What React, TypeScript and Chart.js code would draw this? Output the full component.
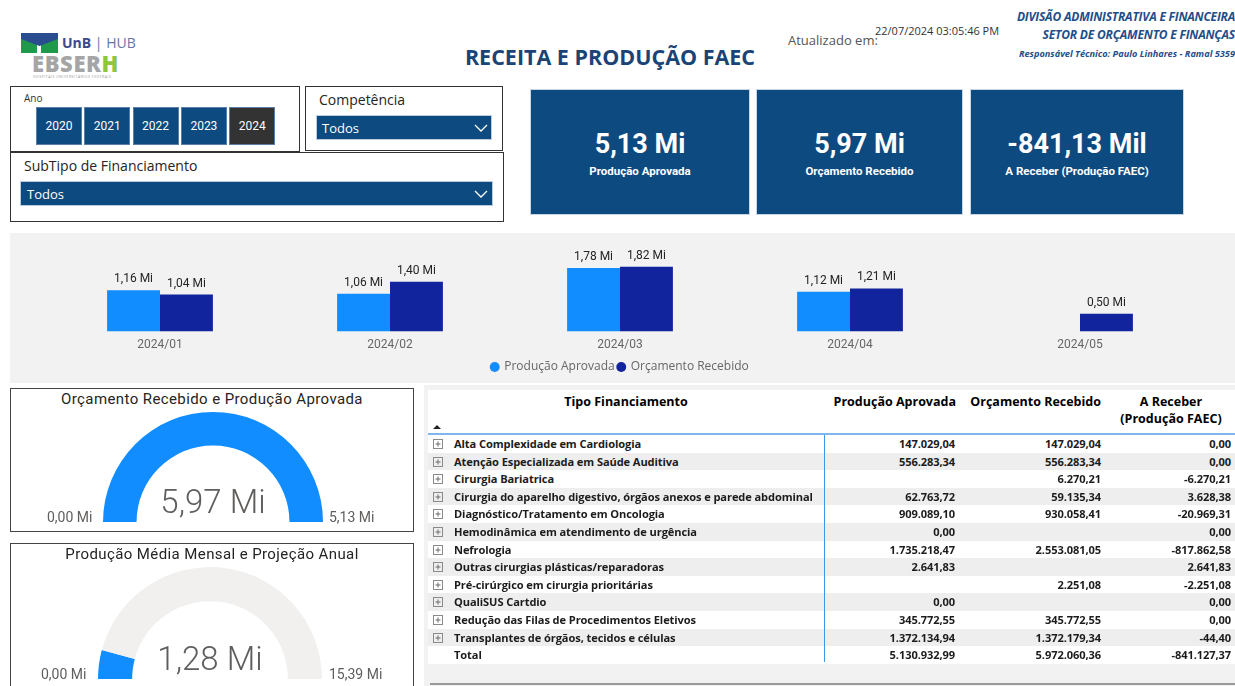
import React, { useEffect, useRef } from "react";
import { Chart, registerables } from "chart.js";
Chart.register(...registerables);

// ---------- DATA ----------
const months = ["2024/01", "2024/02", "2024/03", "2024/04", "2024/05"];
const producaoAprovada: (number | null)[] = [1.16, 1.06, 1.78, 1.12, null];
const orcamentoRecebido: (number | null)[] = [1.04, 1.4, 1.82, 1.21, 0.5];
const seriesNames = ["Produção Aprovada", "Orçamento Recebido"];

const gaugeTitles = ["Orçamento Recebido e Produção Aprovada", "Produção Média Mensal e Projeção Anual"];
const gaugeValues = [5.97, 1.28];
const gaugeMins = [0, 0];
const gaugeMaxs = [5.13, 15.39];

const anos = ["2020", "2021", "2022", "2023", "2024"];
const anoSelecionado = "2024";

const kpiValues = ["5,13 Mi", "5,97 Mi", "-841,13 Mil"];
const kpiLabels = ["Produção Aprovada", "Orçamento Recebido", "A Receber (Produção FAEC)"];

const tiposFinanciamento = [
  "Alta Complexidade em Cardiologia",
  "Atenção Especializada em Saúde Auditiva",
  "Cirurgia Bariatrica",
  "Cirurgia do aparelho digestivo, órgãos anexos e parede abdominal",
  "Diagnóstico/Tratamento em Oncologia",
  "Hemodinâmica em atendimento de urgência",
  "Nefrologia",
  "Outras cirurgias plásticas/reparadoras",
  "Pré-cirúrgico em cirurgia prioritárias",
  "QualiSUS Cartdio",
  "Redução das Filas de Procedimentos Eletivos",
  "Transplantes de órgãos, tecidos e células",
];
const tabProducao: (number | null)[] = [147029.04, 556283.34, null, 62763.72, 909089.1, 0, 1735218.47, 2641.83, null, 0, 345772.55, 1372134.94];
const tabOrcamento: (number | null)[] = [147029.04, 556283.34, 6270.21, 59135.34, 930058.41, null, 2553081.05, null, 2251.08, null, 345772.55, 1372179.34];
const tabReceber: (number | null)[] = [0, 0, -6270.21, 3628.38, -20969.31, 0, -817862.58, 2641.83, -2251.08, 0, 0, -44.4];
const tabTotais = [5130932.99, 5972060.36, -841127.37];

// ---------- HELPERS ----------
const UI = '"Open Sans", "Noto Sans", sans-serif';
const RB = 'Roboto, "Noto Sans", sans-serif';
const BLUE = "#0C4A80";

function fmtBR(v: number | null): string {
  if (v === null) return "";
  const neg = v < 0;
  const s = Math.abs(v).toFixed(2);
  const [i, d] = s.split(".");
  const ii = i.replace(/\B(?=(\d{3})+(?!\d))/g, ".");
  return (neg ? "-" : "") + ii + "," + d;
}
function fmtMi(v: number): string {
  return v.toFixed(2).replace(".", ",") + " Mi";
}

const abs = (l: number, t: number, w?: number, h?: number): React.CSSProperties => ({
  position: "absolute",
  left: l,
  top: t,
  ...(w !== undefined ? { width: w } : {}),
  ...(h !== undefined ? { height: h } : {}),
});

// ---------- BAR CHART ----------
function BarChart() {
  const ref = useRef<HTMLCanvasElement>(null);
  useEffect(() => {
    const labelPlugin = {
      id: "barLabels",
      afterDatasetsDraw(chart: any) {
        const { ctx } = chart;
        ctx.save();
        ctx.font = '12px Roboto, sans-serif';
        ctx.fillStyle = "#252423";
        ctx.textAlign = "center";
        ctx.textBaseline = "bottom";
        chart.data.datasets.forEach((ds: any, i: number) => {
          const meta = chart.getDatasetMeta(i);
          meta.data.forEach((el: any, j: number) => {
            const v = ds.data[j];
            if (v === null || v === undefined) return;
            ctx.fillText(fmtMi(v), el.x, el.y - 5);
          });
        });
        ctx.restore();
      },
    };
    const chart = new Chart(ref.current!, {
      type: "bar",
      data: {
        labels: months,
        datasets: [
          { label: seriesNames[0], data: producaoAprovada, backgroundColor: "#118DFF", categoryPercentage: 0.46, barPercentage: 1 },
          { label: seriesNames[1], data: orcamentoRecebido, backgroundColor: "#12239E", categoryPercentage: 0.46, barPercentage: 1 },
        ],
      },
      options: {
        animation: false,
        responsive: true,
        maintainAspectRatio: false,
        events: [],
        layout: { padding: { left: 35, right: 40, top: 13, bottom: 0 } },
        plugins: {
          legend: {
            position: "bottom",
            labels: {
              usePointStyle: true,
              pointStyle: "circle",
              boxWidth: 7,
              boxHeight: 7,
              padding: 3,
              color: "#666666",
              font: { size: 12, family: UI },
            },
          },
          tooltip: { enabled: false },
        },
        scales: {
          x: {
            grid: { display: false, drawTicks: false },
            border: { display: false },
            ticks: { color: "#666666", padding: 6, font: { size: 12, family: RB } },
          },
          y: { display: false, min: 0, max: 2.4 },
        },
      },
      plugins: [labelPlugin],
    });
    return () => chart.destroy();
  }, []);
  return (
    <div style={{ ...abs(10, 233, 1225, 150), background: "#F2F2F2" }}>
      <canvas ref={ref} />
    </div>
  );
}

// ---------- GAUGE ----------
function Gauge(props: { idx: number; boxTop: number; boxH: number; cx: number; cy: number; r: number; valueY: number; labelY: number; minX: number; maxX: number }) {
  const { idx, boxTop, boxH, cx, cy, r, valueY, labelY, minX, maxX } = props;
  const ref = useRef<HTMLCanvasElement>(null);
  const value = gaugeValues[idx];
  const min = gaugeMins[idx];
  const max = gaugeMaxs[idx];
  useEffect(() => {
    const filled = Math.min(value, max) - min;
    const rest = Math.max(max - value, 0);
    const chart = new Chart(ref.current!, {
      type: "doughnut",
      data: {
        labels: ["valor", "restante"],
        datasets: [{ data: [filled, rest], backgroundColor: ["#118DFF", "#F1F0EF"], borderWidth: 0 }],
      },
      options: {
        animation: false,
        responsive: true,
        maintainAspectRatio: false,
        events: [],
        rotation: -90,
        circumference: 180,
        cutout: "69.5%",
        layout: { padding: 0 },
        plugins: { legend: { display: false }, tooltip: { enabled: false } },
      },
    });
    return () => chart.destroy();
  }, []);
  return (
    <>
      <div style={{ ...abs(10, boxTop, 404, boxH), border: "1px solid #444", boxSizing: "border-box", background: "#fff" }} />
      <div style={{ ...abs(10, boxTop + 1, 404, 20), textAlign: "center", font: `15px ${RB}`, color: "#252423", lineHeight: "20px", letterSpacing: 0.4 }}>
        {gaugeTitles[idx]}
      </div>
      <div style={abs(cx - r, cy - r, 2 * r, r)}>
        <canvas ref={ref} />
      </div>
      <div style={{ ...abs(cx - 100, valueY - 22, 200, 44), textAlign: "center", font: `300 33px ${RB}`, color: "#605E5C", lineHeight: "44px" }}>
        {value.toFixed(2).replace(".", ",")} Mi
      </div>
      <div style={{ ...abs(minX, labelY - 9, 80, 18), font: `14px ${RB}`, color: "#605E5C", lineHeight: "18px" }}>{fmtMi(min)}</div>
      <div style={{ ...abs(maxX, labelY - 9, 80, 18), font: `14px ${RB}`, color: "#605E5C", lineHeight: "18px" }}>{fmtMi(max)}</div>
    </>
  );
}

// ---------- SMALL PIECES ----------
function Chevron({ x, y }: { x: number; y: number }) {
  return (
    <svg style={abs(x, y, 14, 8)} width={14} height={8} viewBox="0 0 14 8">
      <polyline points="1,1 7,7 13,1" fill="none" stroke="#fff" strokeWidth={1.3} />
    </svg>
  );
}

function PlusBox({ x, y }: { x: number; y: number }) {
  return (
    <svg style={abs(x, y, 10, 10)} width={10} height={10} viewBox="0 0 10 10">
      <rect x={0.5} y={0.5} width={9} height={9} fill="none" stroke="#8a8a8a" strokeWidth={1} />
      <line x1={2.5} y1={5} x2={7.5} y2={5} stroke="#6a6a6a" strokeWidth={1} />
      <line x1={5} y1={2.5} x2={5} y2={7.5} stroke="#6a6a6a" strokeWidth={1} />
    </svg>
  );
}

function Table() {
  const rowTop = 435;
  const rowH = 17.6;
  const cellFont = `700 11.1px ${UI}`;
  const headFont = `700 12.5px ${UI}`;
  const rows = tiposFinanciamento.map((t, i) => ({ name: t, p: tabProducao[i], o: tabOrcamento[i], r: tabReceber[i], total: false }));
  rows.push({ name: "Total", p: tabTotais[0], o: tabTotais[1], r: tabTotais[2], total: true });
  return (
    <>
      <div style={{ ...abs(424, 385, 811, 301), background: "#F2F2F2" }} />
      <div style={{ ...abs(428, 390, 807, 272), background: "#FFFFFF" }} />
      <div style={{ ...abs(428, 393, 396, 18), textAlign: "center", font: headFont, color: "#000", lineHeight: "18px" }}>Tipo Financiamento</div>
      <div style={{ ...abs(815, 393, 141, 18), textAlign: "right", font: headFont, color: "#000", lineHeight: "18px", whiteSpace: "nowrap" }}>Produção Aprovada</div>
      <div style={{ ...abs(950, 393, 151, 18), textAlign: "right", font: headFont, color: "#000", lineHeight: "18px", whiteSpace: "nowrap" }}>Orçamento Recebido</div>
      <div style={{ ...abs(1108, 393, 126, 36), textAlign: "center", font: headFont, color: "#000", lineHeight: "17px", whiteSpace: "nowrap" }}>
        A Receber
        <br />
        (Produção FAEC)
      </div>
      <svg style={abs(433, 424, 8, 6)} width={8} height={6} viewBox="0 0 8 6">
        <polygon points="0,5 4,1 8,5" fill="#222" />
      </svg>
      <div style={{ ...abs(428, 433, 807, 2), background: "#7DB7EC" }} />
      {rows.map((row, i) => {
        const top = rowTop + i * rowH;
        const bg = i % 2 === 1 ? "#EEEEEE" : "#FFFFFF";
        const txt: React.CSSProperties = { font: cellFont, color: "#1c1c1c", lineHeight: `${rowH}px`, whiteSpace: "nowrap", letterSpacing: -0.1 };
        return (
          <React.Fragment key={i}>
            <div style={{ ...abs(428, top, 807, rowH), background: bg }} />
            {!row.total && <PlusBox x={433} y={top + 4} />}
            <div style={{ ...abs(454, top, 370, rowH), ...txt }}>{row.name}</div>
            <div style={{ ...abs(825, top, 130, rowH), ...txt, textAlign: "right" }}>{fmtBR(row.p)}</div>
            <div style={{ ...abs(960, top, 141, rowH), ...txt, textAlign: "right" }}>{fmtBR(row.o)}</div>
            <div style={{ ...abs(1101, top, 130, rowH), ...txt, textAlign: "right" }}>{fmtBR(row.r)}</div>
          </React.Fragment>
        );
      })}
      <div style={{ ...abs(824, 435, 1, rowTop + rows.length * rowH - 435 - 2), background: "#3C97E8" }} />
      <div style={{ ...abs(430, 683, 805, 2), background: "#9A9A9A" }} />
    </>
  );
}

// ---------- APP ----------
export default function App() {
  return (
    <div style={{ position: "absolute", left: 0, top: 0, width: 1235, height: 686, overflow: "hidden", background: "#fff", fontFamily: UI }}>
      {/* Logo */}
      <svg style={abs(21, 33, 37, 20)} width={37} height={20} viewBox="0 0 37 20">
        <rect x={0} y={5} width={16} height={15} fill="#1E9A4A" />
        <rect x={20} y={5} width={17} height={15} fill="#1E9A4A" />
        <polygon points="0,0 37,0 37,6 18.5,13 0,6" fill="#2A4D8F" />
      </svg>
      <div style={{ ...abs(62, 34, 80, 18), font: `700 14px ${UI}`, color: "#3C4A87", lineHeight: "18px", whiteSpace: "nowrap" }}>
        UnB <span style={{ fontWeight: 400, color: "#6b74a6" }}>| HUB</span>
      </div>
      <div style={{ ...abs(32, 51, 100, 24), font: `800 22px ${UI}`, color: "#A5A5A5", lineHeight: "24px", letterSpacing: 0.6, whiteSpace: "nowrap" }}>
        EBSER<span style={{ color: "#8DC63F" }}>H</span>
      </div>
      <div style={{ ...abs(33, 74, 100, 5), font: `3.5px ${UI}`, color: "#999", lineHeight: "5px", whiteSpace: "nowrap", letterSpacing: 0.5 }}>
        HOSPITAIS UNIVERSITÁRIOS FEDERAIS
      </div>

      {/* Title */}
      <div style={{ ...abs(400, 42, 420, 30), textAlign: "center", font: `700 21.5px ${UI}`, color: "#1B4375", lineHeight: "30px" }}>
        RECEITA E PRODUÇÃO FAEC
      </div>
      <div style={{ ...abs(788, 31, 100, 18), font: `13px ${UI}`, color: "#555", lineHeight: "18px", whiteSpace: "nowrap" }}>Atualizado em:</div>
      <div style={{ ...abs(875, 23, 140, 16), font: `11px ${UI}`, color: "#333", lineHeight: "16px", whiteSpace: "nowrap" }}>22/07/2024 03:05:46 PM</div>
      <div style={{ ...abs(900, 8, 335, 18), textAlign: "right", font: `italic 700 12px ${UI}`, color: "#1F4E89", lineHeight: "18px", whiteSpace: "nowrap", letterSpacing: -0.2 }}>
        DIVISÃO ADMINISTRATIVA E FINANCEIRA
      </div>
      <div style={{ ...abs(900, 26, 335, 18), textAlign: "right", font: `italic 700 12px ${UI}`, color: "#1F4E89", lineHeight: "18px", whiteSpace: "nowrap", letterSpacing: -0.2 }}>
        SETOR DE ORÇAMENTO E FINANÇAS
      </div>
      <div style={{ ...abs(900, 47, 335, 14), textAlign: "right", font: `italic 700 9.2px ${UI}`, color: "#1F4E89", lineHeight: "14px", whiteSpace: "nowrap", letterSpacing: 0 }}>
        Responsável Técnico: Paulo Linhares - Ramal 5359
      </div>

      {/* Ano slicer */}
      <div style={{ ...abs(10, 86, 290, 66), border: "1px solid #333", boxSizing: "border-box" }} />
      <div style={{ ...abs(24, 91, 40, 14), font: `10px ${UI}`, color: "#333", lineHeight: "14px" }}>Ano</div>
      {anos.map((a, i) => (
        <div
          key={a}
          style={{
            ...abs(36 + i * 48.3, 107, 46, 38),
            background: a === anoSelecionado ? "#333333" : BLUE,
            border: "1px solid #5a7ea6",
            boxSizing: "border-box",
            color: "#fff",
            font: `12px ${RB}`,
            lineHeight: "36px",
            textAlign: "center",
          }}
        >
          {a}
        </div>
      ))}

      {/* Competência */}
      <div style={{ ...abs(305, 86, 198, 65), border: "1px solid #333", boxSizing: "border-box" }} />
      <div style={{ ...abs(319, 90, 150, 20), font: `14px ${UI}`, color: "#252423", lineHeight: "20px" }}>Competência</div>
      <div style={{ ...abs(316, 115, 176, 25), background: BLUE, border: "1px solid #B9CBDD", boxSizing: "border-box" }} />
      <div style={{ ...abs(322, 117, 100, 22), font: `13px ${UI}`, color: "#fff", lineHeight: "22px" }}>Todos</div>
      <Chevron x={474} y={124} />

      {/* SubTipo */}
      <div style={{ ...abs(10, 152, 494, 70), border: "1px solid #333", boxSizing: "border-box" }} />
      <div style={{ ...abs(24, 156, 250, 20), font: `14px ${UI}`, color: "#252423", lineHeight: "20px" }}>SubTipo de Financiamento</div>
      <div style={{ ...abs(20, 181, 473, 25), background: BLUE, border: "1px solid #B9CBDD", boxSizing: "border-box" }} />
      <div style={{ ...abs(27, 183, 100, 22), font: `13px ${UI}`, color: "#fff", lineHeight: "22px" }}>Todos</div>
      <Chevron x={474} y={190} />

      {/* KPI cards */}
      {[
        [531, 218],
        [757, 205],
        [971, 212],
      ].map(([x, w], i) => (
        <React.Fragment key={i}>
          <div style={{ ...abs(x, 90, w, 124), background: BLUE, boxShadow: "0 0 0 1px #c9d5e2" }} />
          <div style={{ ...abs(x, 127, w, 34), textAlign: "center", font: `700 27px ${RB}`, color: "#fff", lineHeight: "34px", whiteSpace: "nowrap" }}>
            {kpiValues[i]}
          </div>
          <div style={{ ...abs(x, 163, w, 16), textAlign: "center", font: `700 11.5px ${RB}`, color: "#fff", lineHeight: "16px", whiteSpace: "nowrap" }}>
            {kpiLabels[i]}
          </div>
        </React.Fragment>
      ))}

      <BarChart />

      <Gauge idx={0} boxTop={388} boxH={144} cx={213} cy={522} r={110} valueY={502} labelY={517} minX={47} maxX={329} />
      <Gauge idx={1} boxTop={543} boxH={160} cx={210} cy={679} r={112} valueY={659} labelY={674} minX={41} maxX={329} />

      <Table />
    </div>
  );
}
